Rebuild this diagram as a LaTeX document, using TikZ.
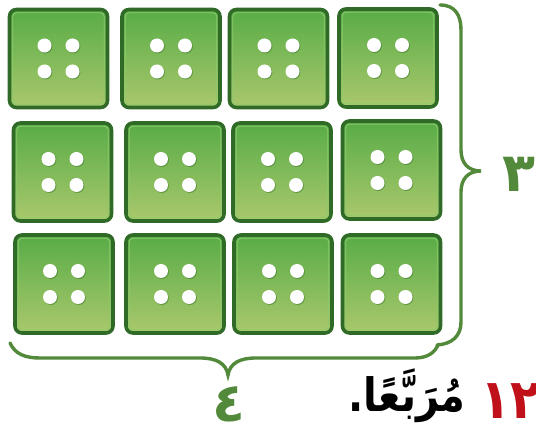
\documentclass[tikz,border=0pt]{standalone}
\usepackage{fontspec}
\newfontfamily\arabicfont[Script=Arabic]{DejaVu Sans}
\TeXXeTstate=1
\definecolor{tiledark}{HTML}{2F6A27}
\definecolor{tiletop}{HTML}{58AC47}
\definecolor{tilebot}{HTML}{AAC86C}
\definecolor{tileline}{HTML}{8CCB6E}
\definecolor{bracegreen}{HTML}{52893A}
\definecolor{numred}{HTML}{C0101A}
\tikzset{
  tilebox/.style={draw=tiledark, line width=3.6pt, rounded corners=7pt,
    top color=tiletop, bottom color=tilebot, minimum width=98pt, minimum height=98pt,
    inner sep=0pt, shape=rectangle},
  tileinner/.style={draw=tileline, line width=0.8pt, rounded corners=4pt},
  dotshadow/.style={fill=tiledark, opacity=0.45},
  bracestyle/.style={draw=bracegreen, line width=3.4pt, line cap=round},
  greenlabel/.style={text=bracegreen, font=\arabicfont\bfseries\fontsize{54}{54}\selectfont, inner sep=0pt}
}
\newcommand\tileat[3]{%
  \node[tilebox] (#1) at (#2,#3) {};
  \draw[tileinner] ([shift={(5,5)}]#1.north west) rectangle ([shift={(-5,-5)}]#1.south east);
  \foreach \dx in {-14,14} {\foreach \dy in {-13,13} {%
    \fill[dotshadow] ([shift={(\dx+0.8,\dy+0.9)}]#1.center) circle (7.1pt);
    \fill[white] ([shift={(\dx,\dy)}]#1.center) circle (7pt);}}%
}
\begin{document}
\begin{tikzpicture}[x=1pt,y=-1pt]
\useasboundingbox (0,0) rectangle (536,435);
% row 1
\tileat{a1}{58.5}{58.5}
\tileat{a2}{171}{58.5}
\tileat{a3}{278.5}{58.5}
\tileat{a4}{388}{58}
% row 2
\tileat{b1}{62.5}{172}
\tileat{b2}{175}{172}
\tileat{b3}{282}{172}
\tileat{b4}{391.5}{170}
% row 3
\tileat{c1}{64}{284}
\tileat{c2}{175}{284}
\tileat{c3}{283}{284}
\tileat{c4}{391.5}{284}
% right brace
\draw[bracestyle] (440,5) .. controls (455,5) and (461,15) .. (461,30)
  -- (461,150) .. controls (461,163) and (468,171) .. (481,171)
  .. controls (468,171) and (461,179) .. (461,192)
  -- (461,322) .. controls (461,336) and (452,344) .. (437,345);
% bottom brace
\draw[bracestyle] (10,343) .. controls (15,354) and (25,358) .. (40,358)
  -- (200,358) .. controls (216,358) and (226,363) .. (228,375)
  .. controls (230,363) and (240,358) .. (256,358)
  -- (415,358) .. controls (428,358) and (435,352) .. (438,345);
% labels
\node[greenlabel] (three) at (519,174) {٣};
\node[greenlabel] (four) at (229,404) {٤};
\node[inner sep=0pt, yscale=1.15, font=\arabicfont\bfseries\fontsize{40}{40}\selectfont] (word) at (407,396) {\beginR مُرَبَّعًا.\endR};
\node[inner sep=0pt, yscale=1.1, text=numred, font=\arabicfont\bfseries\fontsize{50}{50}\selectfont, anchor=west] (num) at (480,401) {١٢};
\end{tikzpicture}
\end{document}
